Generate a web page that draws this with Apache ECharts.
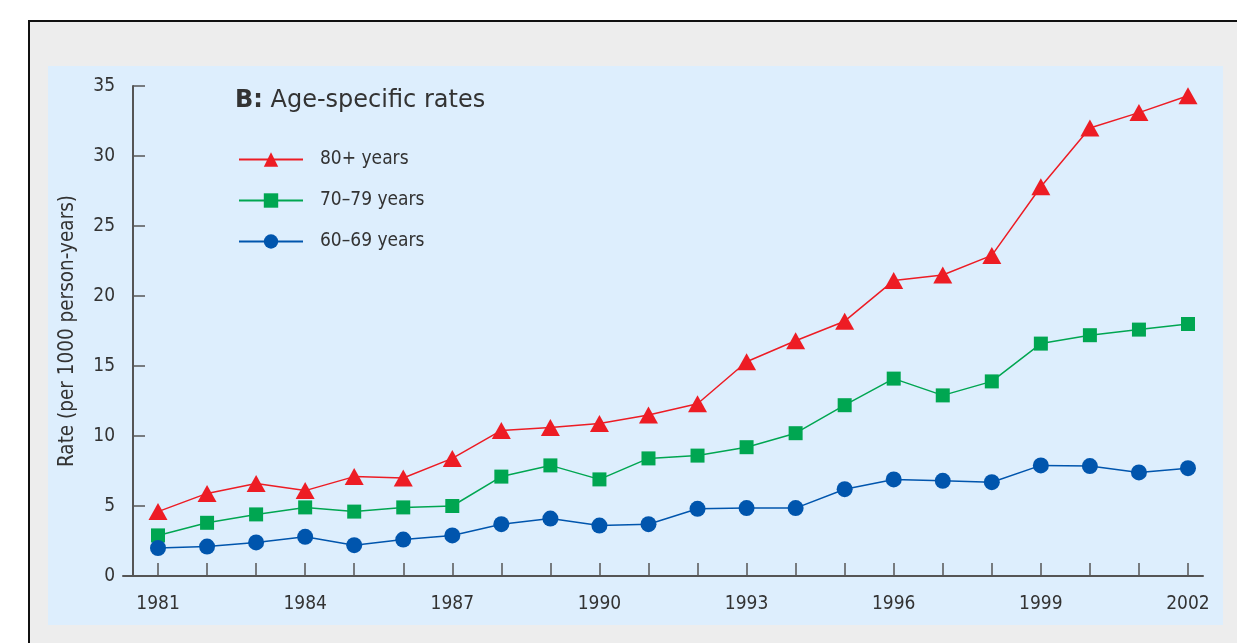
<!DOCTYPE html>
<html>
<head>
<meta charset="utf-8">
<script src="https://cdn.jsdelivr.net/npm/echarts@6/dist/echarts.min.js"></script>
<style>
  html, body { margin:0; padding:0; background:#fff; width:1237px; height:643px; overflow:hidden; }
  #frame { position:absolute; left:28px; top:20px; width:1300px; height:700px; background:#ededed; border-top:2px solid #111; border-left:2px solid #111; }
  #panel { position:absolute; left:48px; top:66px; width:1175px; height:559px; background:#ddeefd; }
  #chart { position:absolute; left:0; top:0; width:1237px; height:643px; }
</style>
</head>
<body>
<div id="frame"></div>
<div id="panel"></div>
<div id="chart"></div>
<script>
const years = [1981,1982,1983,1984,1985,1986,1987,1988,1989,1990,1991,1992,1993,1994,1995,1996,1997,1998,1999,2000,2001,2002];
const rate80plus = [4.6,5.9,6.6,6.1,7.1,7.0,8.4,10.4,10.6,10.9,11.5,12.3,15.3,16.8,18.2,21.1,21.5,22.9,27.8,32.0,33.1,34.3];
const rate70to79 = [2.9,3.8,4.4,4.9,4.6,4.9,5.0,7.1,7.9,6.9,8.4,8.6,9.2,10.2,12.2,14.1,12.9,13.9,16.6,17.2,17.6,18.0];
const rate60to69 = [2.0,2.1,2.4,2.8,2.2,2.6,2.9,3.7,4.1,3.6,3.7,4.8,4.85,4.85,6.2,6.9,6.8,6.7,7.9,7.85,7.4,7.7];
const xTickLabels = [1981,1984,1987,1990,1993,1996,1999,2002];
const seriesNames = ['80+ years','70–79 years','60–69 years'];

const narrow = "'DejaVu Sans Condensed', 'Liberation Sans Narrow', sans-serif";
const titleFont = "'DejaVu Sans', 'Open Sans', sans-serif";
const axisColor = '#555';
const pair = arr => years.map((y,i) => [y, arr[i]]);

const chart = echarts.init(document.getElementById('chart'), null, {renderer:'canvas'});
chart.setOption({
  backgroundColor: 'transparent',
  animation: false,
  title: {
    left: 230, top: 84,
    text: '{b|B:} Age-specific rates',
    textStyle: {
      fontFamily: titleFont, fontSize: 24, color: '#333', fontWeight: 'normal',
      rich: { b: { fontFamily: titleFont, fontSize: 24, fontWeight: 'bold', color: '#333' } }
    }
  },
  legend: {
    orient: 'vertical', left: 233, top: 145,
    itemWidth: 64, itemHeight: 18, itemGap: 22,
    data: seriesNames,
    textStyle: { fontFamily: narrow, fontSize: 19, color: '#333', padding: [0,0,0,12] }
  },
  grid: { left: 123, right: 34, top: 86, bottom: 67 },
  xAxis: {
    type: 'value', min: 1980.286, max: 2002.306,
    axisLine: { show: true, lineStyle: { color: axisColor, width: 2 } },
    axisTick: { show: true, inside: true, length: 13, lineStyle: { color: axisColor, width: 1.5 }, customValues: years },
    axisLabel: { customValues: xTickLabels, formatter: v => String(v), margin: 19, fontFamily: narrow, fontSize: 19, color: '#333' },
    splitLine: { show: false }
  },
  yAxis: {
    type: 'value', min: 0, max: 35, interval: 5, offset: -10,
    name: 'Rate (per 1000 person-years)', nameLocation: 'middle', nameGap: 55,
    nameTextStyle: { fontFamily: narrow, fontSize: 20.5, color: '#333' },
    axisLine: { show: true, lineStyle: { color: axisColor, width: 2 } },
    axisTick: { show: true, inside: true, length: 12, lineStyle: { color: axisColor, width: 1.5 } },
    axisLabel: { margin: 18, fontFamily: narrow, fontSize: 19, color: '#333' },
    splitLine: { show: false }
  },
  series: [
    { name: seriesNames[0], type: 'line', data: pair(rate80plus), symbol: 'triangle', symbolSize: [19,17],
      itemStyle: { color: '#ed1c24' }, lineStyle: { color: '#ed1c24', width: 1.5 } },
    { name: seriesNames[1], type: 'line', data: pair(rate70to79), symbol: 'rect', symbolSize: 14,
      itemStyle: { color: '#00a651' }, lineStyle: { color: '#00a651', width: 1.5 } },
    { name: seriesNames[2], type: 'line', data: pair(rate60to69), symbol: 'circle', symbolSize: 16,
      itemStyle: { color: '#0055ad' }, lineStyle: { color: '#0055ad', width: 1.5 } }
  ]
});
</script>
</body>
</html>
